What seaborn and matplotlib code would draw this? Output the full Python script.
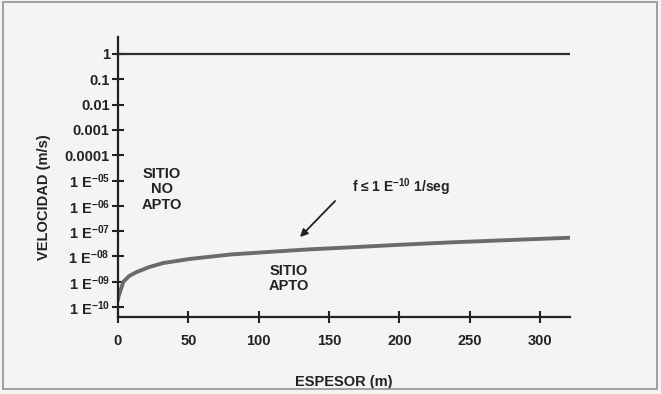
import matplotlib
matplotlib.use("Agg")
import matplotlib.pyplot as plt
import seaborn as sns
import pandas as pd
from matplotlib.patches import Rectangle

# ---- data ----
espesor = [0, 0.5, 1.4, 3.8, 8, 13, 22, 32, 51, 80, 106, 135, 165, 200, 236, 280, 321]
velocidad = [1.9e-10, 2.8e-10, 3.9e-10, 1.0e-9, 1.7e-9, 2.4e-9, 3.8e-9, 5.5e-9, 8.0e-9,
             1.2e-8, 1.5e-8, 1.9e-8, 2.3e-8, 2.9e-8, 3.6e-8, 4.5e-8, 5.5e-8]
limite_x = [0, 321]
limite_y = [1, 1]
x_ticks = [0, 50, 100, 150, 200, 250, 300]
y_ticks = [1, 0.1, 0.01, 0.001, 0.0001, 1e-5, 1e-6, 1e-7, 1e-8, 1e-9, 1e-10]
y_labels = ["1", "0.1", "0.01", "0.001", "0.0001",
            "1 E$^{-05}$", "1 E$^{-06}$", "1 E$^{-07}$", "1 E$^{-08}$",
            "1 E$^{-09}$", "1 E$^{-10}$"]

sns.set_style("ticks")
plt.rcParams["font.family"] = ["Liberation Sans", "DejaVu Sans"]
plt.rcParams["font.weight"] = "bold"
plt.rcParams["mathtext.fontset"] = "custom"
plt.rcParams["mathtext.rm"] = "Liberation Sans:bold"
plt.rcParams["mathtext.it"] = "Liberation Sans:bold"
plt.rcParams["mathtext.bf"] = "Liberation Sans:bold"
plt.rcParams["mathtext.default"] = "bf"

bg = "#f4f4f2"
ink = "#222222"
fig = plt.figure(figsize=(6.61, 3.94), dpi=100, facecolor=bg)
ax = fig.add_axes([118 / 661, (394 - 317) / 394, (570 - 118) / 661, (317 - 37) / 394])
ax.set_facecolor(bg)

df_curve = pd.DataFrame({"espesor": espesor, "velocidad": velocidad})
df_lim = pd.DataFrame({"espesor": limite_x, "velocidad": limite_y})
sns.lineplot(data=df_lim, x="espesor", y="velocidad", ax=ax, color="#2e2e2e", linewidth=1.6)
sns.lineplot(data=df_curve, x="espesor", y="velocidad", ax=ax, color="#6b6b6b", linewidth=2.8)

ax.set_yscale("log")
ax.set_xlim(0, 321.3)
ax.set_ylim(10 ** -10.39, 10 ** 0.67)
ax.set_yticks(y_ticks)
ax.set_yticklabels(y_labels)
ax.minorticks_off()
ax.set_xticks(x_ticks)
ax.set_xticklabels([str(v) for v in x_ticks])

for s in ["top", "right"]:
    ax.spines[s].set_visible(False)
for s in ["left", "bottom"]:
    ax.spines[s].set_linewidth(1.6)
    ax.spines[s].set_color(ink)

ax.tick_params(axis="both", direction="inout", length=8, width=1.5, color=ink,
               labelsize=10.5, labelcolor=ink)
ax.tick_params(axis="x", pad=8)
ax.tick_params(axis="y", pad=2)
for lab in ax.get_xticklabels() + ax.get_yticklabels():
    lab.set_fontweight("bold")

ax.set_xlabel("ESPESOR (m)", fontsize=10.5, fontweight="bold", color=ink)
ax.set_ylabel("VELOCIDAD (m/s)", fontsize=10.5, fontweight="bold", color=ink)
ax.xaxis.set_label_coords(0.5, -(375 - 317) / 280)
ax.yaxis.set_label_coords(-(118 - 51) / 452, (317 - 197) / 280)

ax.text(31, 10 ** -5.34, "SITIO\nNO\nAPTO", ha="center", va="center", fontsize=10.5,
        fontweight="bold", color=ink, linespacing=1.15)
ax.text(121.5, 10 ** -8.87, "SITIO\nAPTO", ha="center", va="center", fontsize=10.5,
        fontweight="bold", color=ink, linespacing=1.1)
ax.text(166, 10 ** -5.28, "f \u2264 1 E$^{-10}$ 1/seg", ha="left", va="center", fontsize=10,
        fontweight="bold", color=ink)
ax.annotate("", xy=(128, 10 ** -7.31), xytext=(155.7, 10 ** -5.73),
            arrowprops=dict(arrowstyle="-|>", color=ink, lw=1.3, mutation_scale=11))

if ax.get_legend() is not None:
    ax.get_legend().remove()

fig.patches.append(Rectangle((3 / 661, (394 - 389) / 394), (657 - 3) / 661, (389 - 2) / 394,
                             transform=fig.transFigure, fill=False, edgecolor="#9a9a9a",
                             linewidth=1.3))

fig.savefig("out.png", dpi=100, facecolor=bg)
